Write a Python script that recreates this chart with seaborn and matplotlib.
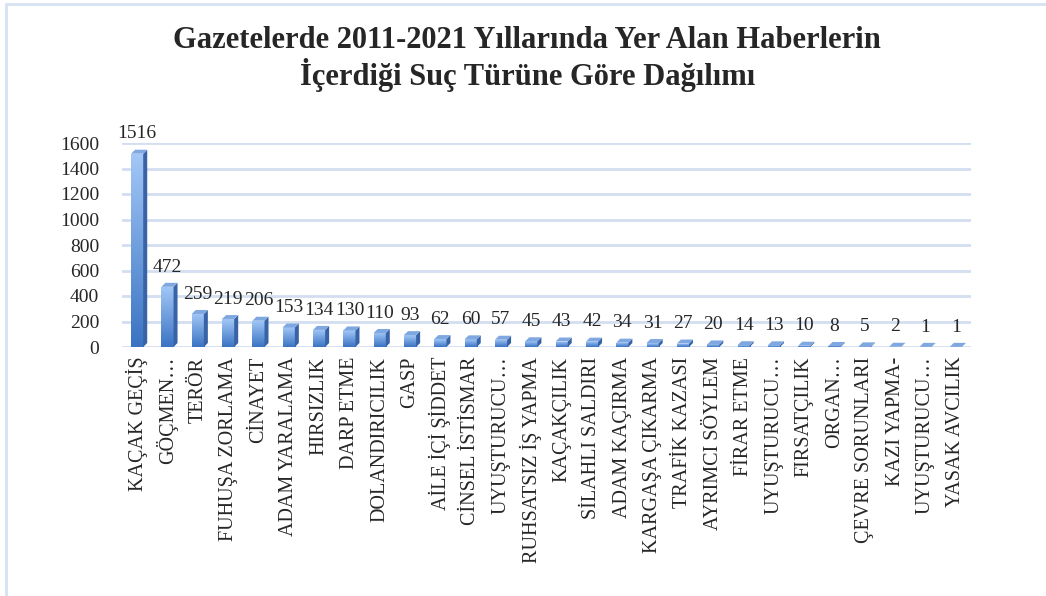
import numpy as np
import pandas as pd
import matplotlib
matplotlib.use("Agg")
import matplotlib.pyplot as plt
import seaborn as sns
from matplotlib.colors import LinearSegmentedColormap
from matplotlib.lines import Line2D
from matplotlib.patches import Polygon

categories = ["KAÇAK GEÇİŞ", "GÖÇMEN…", "TERÖR", "FUHUŞA ZORLAMA", "CİNAYET",
              "ADAM YARALAMA", "HIRSIZLIK", "DARP ETME", "DOLANDIRICILIK", "GASP",
              "AİLE İÇİ ŞİDDET", "CİNSEL İSTİSMAR", "UYUŞTURUCU…", "RUHSATSIZ İŞ YAPMA",
              "KAÇAKÇILIK", "SİLAHLI SALDIRI", "ADAM KAÇIRMA", "KARGAŞA ÇIKARMA",
              "TRAFİK KAZASI", "AYRIMCI SÖYLEM", "FİRAR ETME", "UYUŞTURUCU…",
              "FIRSATÇILIK", "ORGAN…", "ÇEVRE SORUNLARI", "KAZI YAPMA-",
              "UYUŞTURUCU…", "YASAK AVCILIK"]
values = [1516, 472, 259, 219, 206, 153, 134, 130, 110, 93, 62, 60, 57, 45,
          43, 42, 34, 31, 27, 20, 14, 13, 10, 8, 5, 2, 1, 1]
yticks = [0, 200, 400, 600, 800, 1000, 1200, 1400, 1600]
title_lines = ["Gazetelerde 2011-2021 Yıllarında Yer Alan Haberlerin",
               "İçerdiği Suç Türüne Göre Dağılımı"]

sns.set_theme(style="white")
plt.rcParams['font.family'] = ['Liberation Serif', 'DejaVu Serif']

W, H = 1046, 596
df = pd.DataFrame({"pos": [f"c{i}" for i in range(len(categories))], "val": values})

fig = plt.figure(figsize=(W / 100, H / 100), dpi=100)
ax = fig.add_axes([122 / W, 1 - 347 / H, (971 - 122) / W, (347 - 143) / H])

sns.barplot(data=df, x="pos", y="val", color="#5B8FD6", width=0.40, ax=ax,
            saturation=1, zorder=3)

ax.set_xlim(-0.5, len(categories) - 0.5)
ax.set_ylim(0, 1600)

cmap = LinearSegmentedColormap.from_list("bl", ["#3A73C3", "#A3C8F7"])
grad = np.linspace(0, 1, 256).reshape(-1, 1)
dx, dy = 4.0, 4.0  # depth in pixels
for p in ax.patches:
    x0, y0 = p.get_x(), p.get_y()
    w, h = p.get_width(), p.get_height()
    im = ax.imshow(grad, cmap=cmap, origin="lower", aspect="auto",
                   extent=[x0, x0 + w, y0, y0 + max(h, 1e-6)], zorder=4)
    im.set_clip_path(p)
    p.set_linewidth(0)
    (ax_l, ay_b), (ax_r, ay_t) = ax.transData.transform([(x0, y0), (x0 + w, y0 + h)])
    side = Polygon([(ax_r, ay_b), (ax_r + dx, ay_b + dy), (ax_r + dx, ay_t + dy), (ax_r, ay_t)],
                   closed=True, transform=None, facecolor="#3863A6", edgecolor="none", zorder=5)
    top = Polygon([(ax_l, ay_t), (ax_r, ay_t), (ax_r + dx, ay_t + dy), (ax_l + dx, ay_t + dy)],
                  closed=True, transform=None, facecolor="#7FA7E0", edgecolor="none", zorder=5)
    fig.add_artist(side)
    fig.add_artist(top)

ax.set_yticks(yticks)
ax.set_yticklabels([str(t) for t in yticks], fontsize=14)
ax.set_xticks(range(len(categories)))
ax.set_xticklabels(categories, rotation=90, fontsize=14.5)
ax.tick_params(axis="y", length=0, pad=16.5)
ax.tick_params(axis="x", length=0, pad=7)
ax.yaxis.grid(True, color="#D3DEF0", linewidth=2, zorder=0)
ax.set_axisbelow(True)
for s in ax.spines.values():
    s.set_visible(False)
ax.set_xlabel("")
ax.set_ylabel("")

for i, v in enumerate(values):
    ax.annotate(str(v), (i, v), xytext=(0, 11), textcoords="offset points",
                ha="center", va="baseline", fontsize=14, annotation_clip=False)

fig.text(0.504, 1 - 48 / H, title_lines[0], ha="center", va="baseline",
         fontsize=22, fontweight="bold")
fig.text(0.504, 1 - 85 / H, title_lines[1], ha="center", va="baseline",
         fontsize=22, fontweight="bold")

fig.add_artist(Line2D([6 / W, 6 / W], [0, 1 - 4 / H], color="#D6E2F3", lw=2,
                      transform=fig.transFigure))
fig.add_artist(Line2D([6 / W, 1], [1 - 4 / H, 1 - 4 / H], color="#D6E2F3", lw=2,
                      transform=fig.transFigure))

fig.savefig("out.png", dpi=100)
